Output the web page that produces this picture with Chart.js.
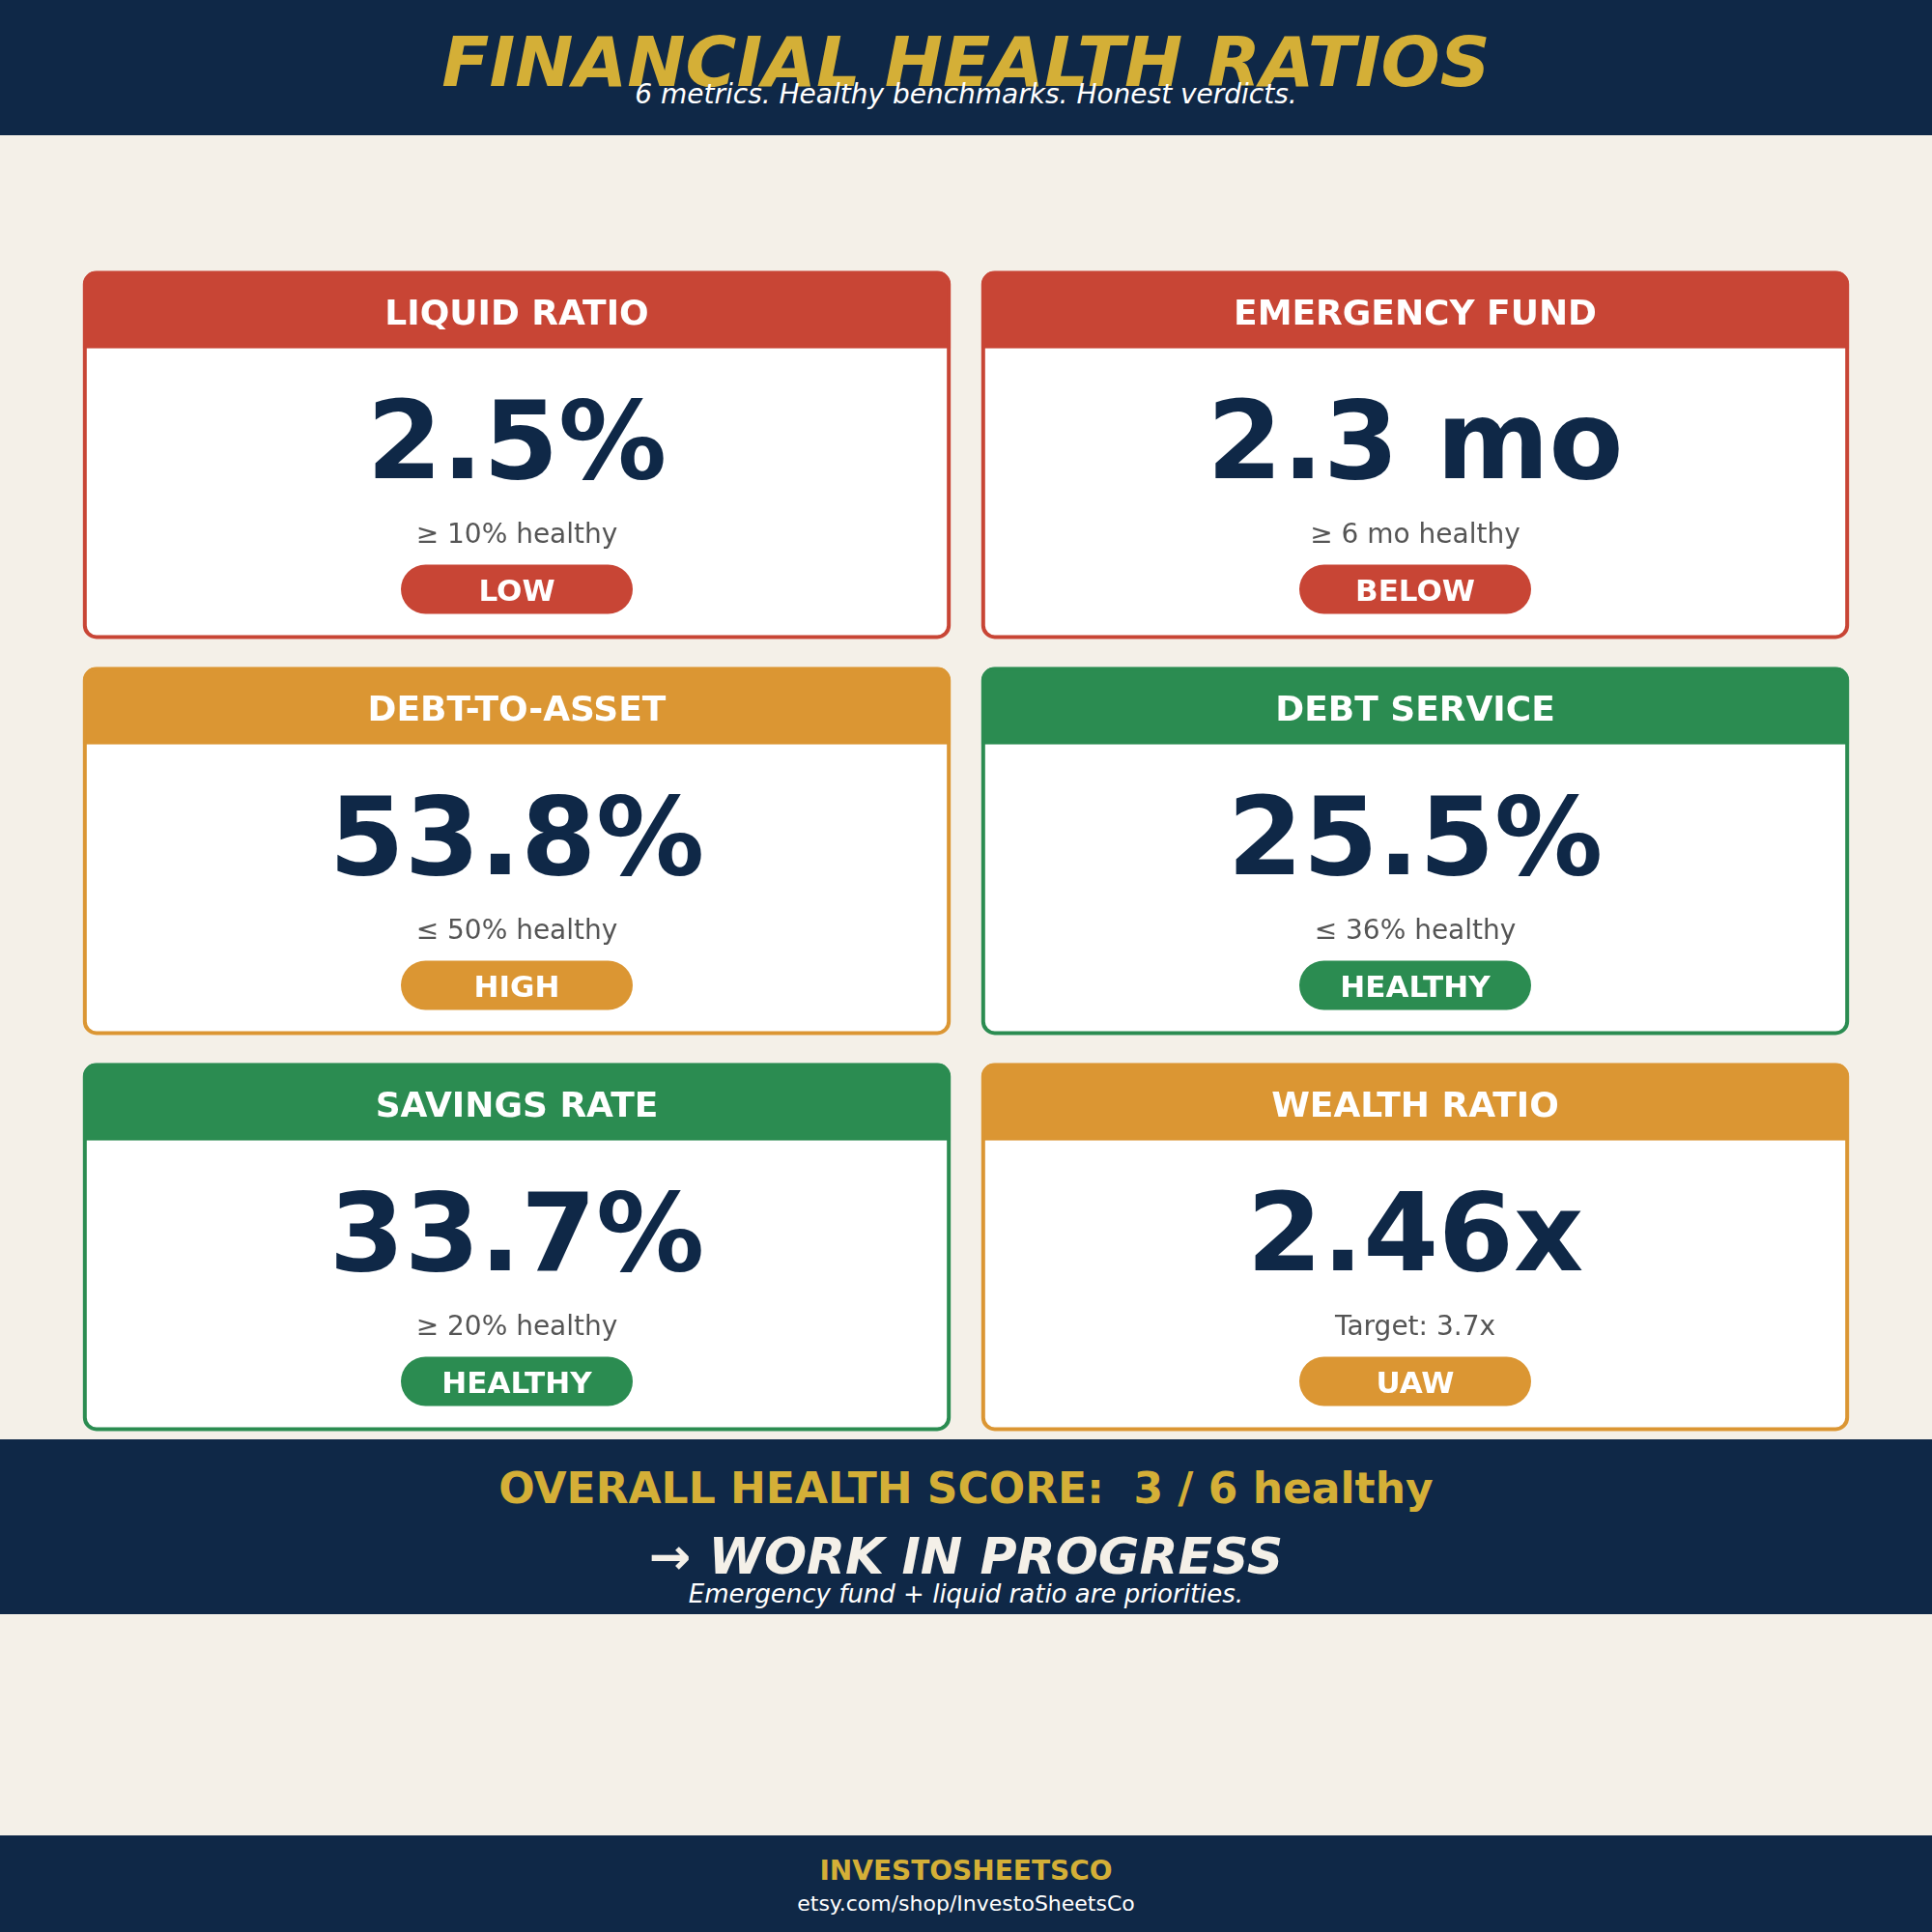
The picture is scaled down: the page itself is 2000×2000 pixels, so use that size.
<!DOCTYPE html>
<html lang="en">
<head>
<meta charset="UTF-8">
<title>Financial Health Ratios</title>
<script src="https://cdn.jsdelivr.net/npm/chart.js"></script>
<style>
    body {
        margin: 0;
        width: 2000px;
        height: 2000px;
        background: #F4F0E8;
        font-family: 'DejaVu Sans', sans-serif;
        position: relative;
        overflow: hidden;
    }
    .band { position: absolute; left: 0; width: 2000px; background: #0F2847; }
    .txt { position: absolute; left: 0; width: 2000px; text-align: center; line-height: 0; white-space: pre; }
    #chartBox { position: absolute; left: 0; top: 0; width: 2000px; height: 2000px; }
</style>
</head>
<body>
<div class="band" style="top:0;height:140px"></div>
<div class="band" style="top:1490px;height:181px"></div>
<div class="band" style="top:1900px;height:100px"></div>

<div class="txt" style="top:64px;font-size:72px;font-weight:bold;font-style:italic;color:#D4AF37">FINANCIAL HEALTH RATIOS</div>
<div class="txt" style="top:98px;font-size:28px;font-style:italic;color:#FFFFFF">6 metrics. Healthy benchmarks. Honest verdicts.</div>

<div class="txt" style="top:1541px;font-size:44px;font-weight:bold;color:#D4AF37">OVERALL HEALTH SCORE:  3 / 6 healthy</div>
<div class="txt" style="top:1611px;font-size:52px;font-weight:bold;font-style:italic;color:#F4F0E8">→ WORK IN PROGRESS</div>
<div class="txt" style="top:1650px;font-size:26px;font-style:italic;color:#FFFFFF">Emergency fund + liquid ratio are priorities.</div>

<div class="txt" style="top:1937px;font-size:28px;font-weight:bold;color:#D4AF37">INVESTOSHEETSCO</div>
<div class="txt" style="top:1971px;font-size:22px;color:#FFFFFF">etsy.com/shop/InvestoSheetsCo</div>

<div id="chartBox"><canvas id="ratioChart"></canvas></div>

<script>
    // metrics, in reading order (2 columns x 3 rows)
    const metrics = ['LIQUID RATIO', 'EMERGENCY FUND', 'DEBT-TO-ASSET', 'DEBT SERVICE', 'SAVINGS RATE', 'WEALTH RATIO'];
    const values = [2.5, 2.3, 53.8, 25.5, 33.7, 2.46];
    const units = ['%', ' mo', '%', '%', '%', 'x'];
    const benchmarks = ['≥ 10% healthy', '≥ 6 mo healthy', '≤ 50% healthy', '≤ 36% healthy', '≥ 20% healthy', 'Target: 3.7x'];
    const verdicts = ['LOW', 'BELOW', 'HIGH', 'HEALTHY', 'HEALTHY', 'UAW'];
    const levels = ['bad', 'bad', 'warn', 'good', 'good', 'warn'];

    const levelColors = { bad: '#C84535', warn: '#DB9633', good: '#2B8C51' };
    const navy = '#0F2847';

    const cardPlugin = {
        id: 'cards',
        afterDatasetsDraw(chart) {
            const ctx = chart.ctx;
            const xs = chart.scales.x, ys = chart.scales.y;
            const cw = (xs.getPixelForValue(1) - xs.getPixelForValue(0)) * 0.966;
            const ch = (ys.getPixelForValue(1) - ys.getPixelForValue(0)) * 0.929;
            chart.getDatasetMeta(0).data.forEach((pt, i) => {
                const col = levelColors[levels[i]];
                const left = pt.x - cw / 2, top = pt.y - ch / 2;
                const cx = pt.x;
                ctx.save();
                // card body + coloured header strip
                ctx.beginPath();
                ctx.roundRect(left, top, cw, ch, 14);
                ctx.fillStyle = '#FFFFFF';
                ctx.fill();
                ctx.save();
                ctx.clip();
                ctx.fillStyle = col;
                ctx.fillRect(left, top, cw, 80);
                ctx.restore();
                ctx.beginPath();
                ctx.roundRect(left + 2, top + 2, cw - 4, ch - 4, 12);
                ctx.lineWidth = 4;
                ctx.strokeStyle = col;
                ctx.stroke();

                ctx.textAlign = 'center';
                ctx.textBaseline = 'alphabetic';
                ctx.fillStyle = '#FFFFFF';
                ctx.font = 'bold 36px "DejaVu Sans"';
                ctx.fillText(metrics[i], cx, top + 55);

                ctx.fillStyle = navy;
                ctx.font = 'bold 112px "DejaVu Sans"';
                ctx.fillText(values[i] + units[i], cx, top + 214);

                ctx.fillStyle = '#555555';
                ctx.font = '28px "DejaVu Sans"';
                ctx.fillText(benchmarks[i], cx, top + 281);

                ctx.beginPath();
                ctx.roundRect(cx - 120, top + 304, 240, 51, 25.5);
                ctx.fillStyle = col;
                ctx.fill();
                ctx.fillStyle = '#FFFFFF';
                ctx.font = 'bold 31px "DejaVu Sans"';
                ctx.fillText(verdicts[i], cx, top + 341);
                ctx.restore();
            });
        }
    };

    new Chart(document.getElementById('ratioChart'), {
        type: 'scatter',
        data: {
            labels: metrics,
            datasets: [{
                data: metrics.map((m, i) => ({ x: i % 2, y: Math.floor(i / 2) })),
                pointRadius: 0
            }]
        },
        options: {
            responsive: true,
            maintainAspectRatio: false,
            devicePixelRatio: 1,
            animation: false,
            events: [],
            layout: { padding: { left: 70, right: 70, top: 266, bottom: 504 } },
            scales: {
                x: { type: 'linear', min: -0.5, max: 1.5, display: false },
                y: { type: 'linear', min: -0.5, max: 2.5, reverse: true, display: false }
            },
            plugins: { legend: { display: false }, tooltip: { enabled: false } }
        },
        plugins: [cardPlugin]
    });
</script>
</body>
</html>
